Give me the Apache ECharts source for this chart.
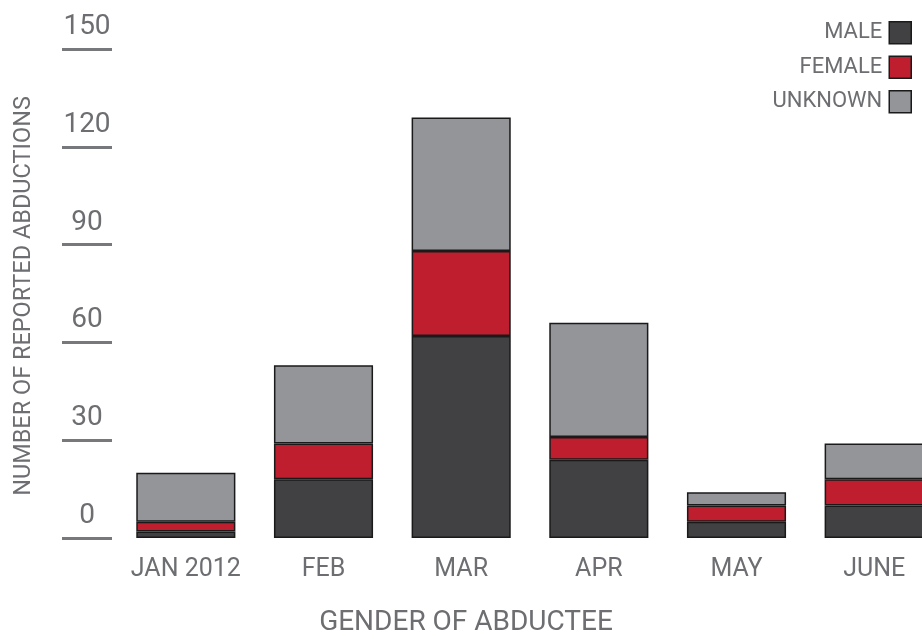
<!DOCTYPE html>
<html>
<head>
<meta charset="utf-8">
<script src="https://cdn.jsdelivr.net/npm/echarts@6/dist/echarts.min.js"></script>
<style>
  html, body { margin: 0; padding: 0; background: #fff; }
  #chart { width: 922px; height: 639px; }
</style>
</head>
<body>
<div id="chart"></div>
<script>
// reported abductions by month, split by gender
const months = ['JAN 2012', 'FEB', 'MAR', 'APR', 'MAY', 'JUNE'];
const male = [2, 18, 62, 24, 5, 10];
const female = [3, 11, 26, 7, 5, 8];
const unknown = [15, 24, 41, 35, 4, 11];
const yTicks = [0, 30, 60, 90, 120, 150];

const FONT = 'Roboto';
const TEXT = '#6d6e71';
const EDGE = '#1a1a1a';

const chart = echarts.init(document.getElementById('chart'));

function barSeries(name, data, color) {
  return {
    name: name,
    type: 'bar',
    stack: 'total',
    xAxisIndex: 0,
    yAxisIndex: 0,
    barCategoryGap: '28%',
    data: data,
    itemStyle: { color: color, borderColor: EDGE, borderWidth: 1.5 }
  };
}

chart.setOption({
  animation: false,
  textStyle: { fontFamily: FONT },
  grid: [
    // last column runs past the right edge of the canvas
    { left: 117, width: 826, top: 49, bottom: 101, outerBoundsMode: 'none', containLabel: false },
    // narrow grid holding the short tick marks on the left
    { left: 62, width: 50, top: 49, bottom: 101, outerBoundsMode: 'none', containLabel: false }
  ],
  legend: {
    data: ['MALE', 'FEMALE', 'UNKNOWN'],
    orient: 'vertical',
    align: 'right',
    right: 5,
    top: 16,
    itemWidth: 22,
    itemHeight: 22,
    itemGap: 11,
    icon: 'rect',
    itemStyle: { borderColor: EDGE, borderWidth: 1.5 },
    textStyle: { fontFamily: FONT, fontSize: 22, color: TEXT, padding: [0, 2, 0, 0] }
  },
  xAxis: [
    {
      gridIndex: 0,
      type: 'category',
      data: months,
      axisLine: { show: false },
      axisTick: { show: false },
      axisLabel: { interval: 0, fontFamily: FONT, fontSize: 25, color: TEXT, margin: 19 }
    },
    { gridIndex: 1, type: 'value', show: false }
  ],
  yAxis: [
    {
      gridIndex: 0,
      type: 'value',
      min: 0,
      max: 150,
      interval: 30,
      show: false
    },
    {
      gridIndex: 1,
      type: 'value',
      min: yTicks[0],
      max: yTicks[yTicks.length - 1],
      interval: 30,
      axisLine: { show: false },
      axisTick: { show: false },
      splitLine: { show: true, lineStyle: { color: '#77787b', width: 3 } },
      axisLabel: {
        margin: -25,
        align: 'center',
        verticalAlign: 'bottom',
        padding: [0, 0, 8, 0],
        fontFamily: FONT,
        fontSize: 28,
        color: TEXT,
        showMinLabel: true,
        showMaxLabel: true
      }
    }
  ],
  graphic: [
    {
      type: 'text',
      x: 24,
      y: 296,
      rotation: Math.PI / 2,
      style: {
        text: 'NUMBER OF REPORTED ABDUCTIONS',
        fontFamily: FONT,
        fontSize: 23.5,
        fill: TEXT,
        align: 'center',
        verticalAlign: 'middle'
      }
    },
    {
      type: 'text',
      x: 466,
      y: 623,
      style: {
        text: 'GENDER OF ABDUCTEE',
        fontFamily: FONT,
        fontSize: 28,
        fill: TEXT,
        align: 'center',
        verticalAlign: 'middle'
      }
    }
  ],
  series: [
    barSeries('MALE', male, '#414143'),
    barSeries('FEMALE', female, '#be1e2d'),
    barSeries('UNKNOWN', unknown, '#939598')
  ]
});
</script>
</body>
</html>
